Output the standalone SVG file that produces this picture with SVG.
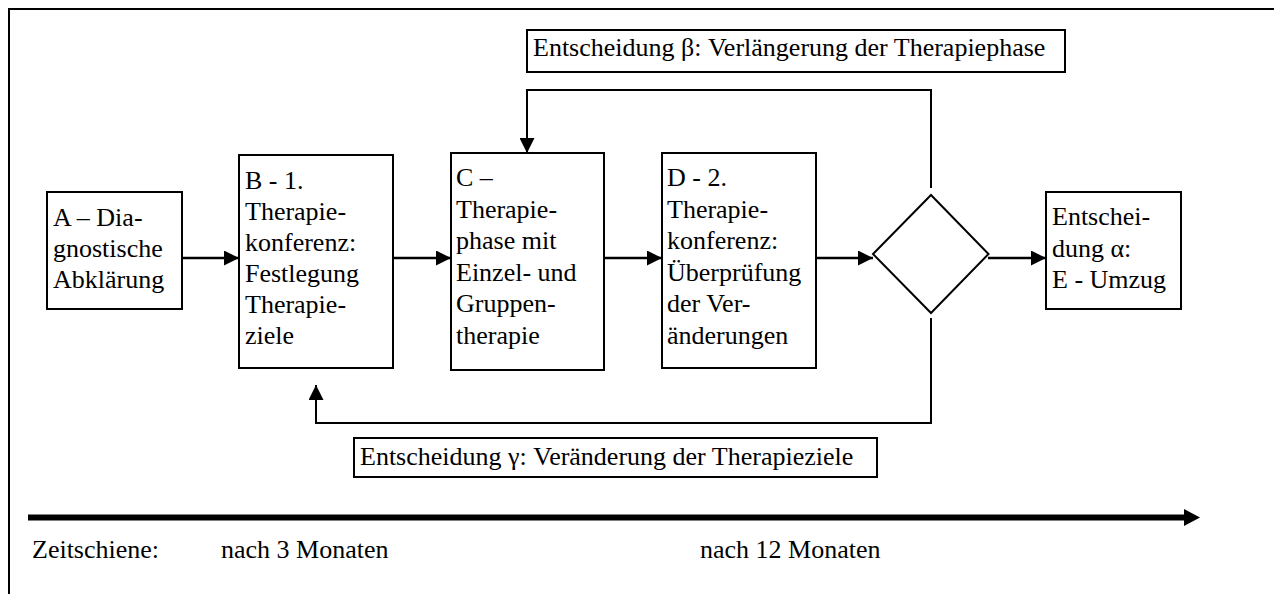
<svg xmlns="http://www.w3.org/2000/svg" width="1274" height="594" viewBox="0 0 1274 594">
<style>
text{font-family:'Liberation Serif','Times New Roman',serif;font-size:26px;fill:#000}
.box{fill:#fff;stroke:#000;stroke-width:2}
.con{fill:none;stroke:#000;stroke-width:2.5}
.fb{fill:none;stroke:#000;stroke-width:2}
</style>
<defs>
<marker id="ah" viewBox="0 0 10 10" refX="10" refY="5" markerUnits="userSpaceOnUse" markerWidth="15" markerHeight="15" orient="auto">
<path d="M0,0 L10,5 L0,10 Z" fill="#000"/>
</marker>
</defs>
<rect width="1274" height="594" fill="#fff"/>
<path d="M9,594 V9 H1274" fill="none" stroke="#000" stroke-width="2"/>
<g id="connectors">
<line class="con" x1="182" y1="258" x2="239" y2="258" marker-end="url(#ah)"/>
<line class="con" x1="393" y1="258" x2="451" y2="258" marker-end="url(#ah)"/>
<line class="con" x1="604" y1="258" x2="662" y2="258" marker-end="url(#ah)"/>
<line class="con" x1="816" y1="258" x2="873" y2="258" marker-end="url(#ah)"/>
<line class="con" x1="988" y1="258" x2="1046" y2="258" marker-end="url(#ah)"/>
<path class="fb" d="M931,188 V90 H527 V153" marker-end="url(#ah)"/>
<path class="fb" d="M931,318 V423 H316 V385" marker-end="url(#ah)"/>
</g>
<g id="nodeA">
<rect class="box" x="47" y="192" width="135" height="117"/>
<text x="53" y="226">A – Dia-</text>
<text x="53" y="257">gnostische</text>
<text x="53" y="288">Abklärung</text>
</g>
<g id="nodeB">
<rect class="box" x="239" y="155" width="154" height="213"/>
<text x="245" y="189">B - 1.</text>
<text x="245" y="220">Therapie-</text>
<text x="245" y="251">konferenz:</text>
<text x="245" y="282">Festlegung</text>
<text x="245" y="313">Therapie-</text>
<text x="245" y="344">ziele</text>
</g>
<g id="nodeC">
<rect class="box" x="451" y="153" width="153" height="217"/>
<text x="456" y="186">C –</text>
<text x="456" y="217.5">Therapie-</text>
<text x="456" y="249">phase mit</text>
<text x="456" y="280.5">Einzel- und</text>
<text x="456" y="312">Gruppen-</text>
<text x="456" y="343.5">therapie</text>
</g>
<g id="nodeD">
<rect class="box" x="662" y="153" width="154" height="215"/>
<text x="667" y="186">D - 2.</text>
<text x="667" y="217.5">Therapie-</text>
<text x="667" y="249">konferenz:</text>
<text x="667" y="280.5">Überprüfung</text>
<text x="667" y="312">der Ver-</text>
<text x="667" y="343.5">änderungen</text>
</g>
<g id="decision">
<polygon points="931,195 988.5,254 931,313 873,254" fill="#fff" stroke="#000" stroke-width="2"/>
</g>
<g id="nodeE">
<rect class="box" x="1046" y="192" width="135" height="117"/>
<text x="1052" y="225">Entschei-</text>
<text x="1052" y="257">dung α:</text>
<text x="1052" y="288">E - Umzug</text>
</g>
<g id="labelBeta">
<rect class="box" x="527" y="30" width="538" height="42"/>
<text x="533" y="56">Entscheidung β: Verlängerung der Therapiephase</text>
</g>
<g id="labelGamma">
<rect class="box" x="354" y="438" width="523" height="39"/>
<text x="360" y="465">Entscheidung γ: Veränderung der Therapieziele</text>
</g>
<g id="timeline">
<line x1="28" y1="517.5" x2="1186" y2="517.5" stroke="#000" stroke-width="6"/>
<polygon points="1184,509 1200,517.5 1184,526" fill="#000"/>
<text x="32" y="558">Zeitschiene:</text>
<text x="221" y="558">nach 3 Monaten</text>
<text x="700" y="558">nach 12 Monaten</text>
</g>
</svg>
